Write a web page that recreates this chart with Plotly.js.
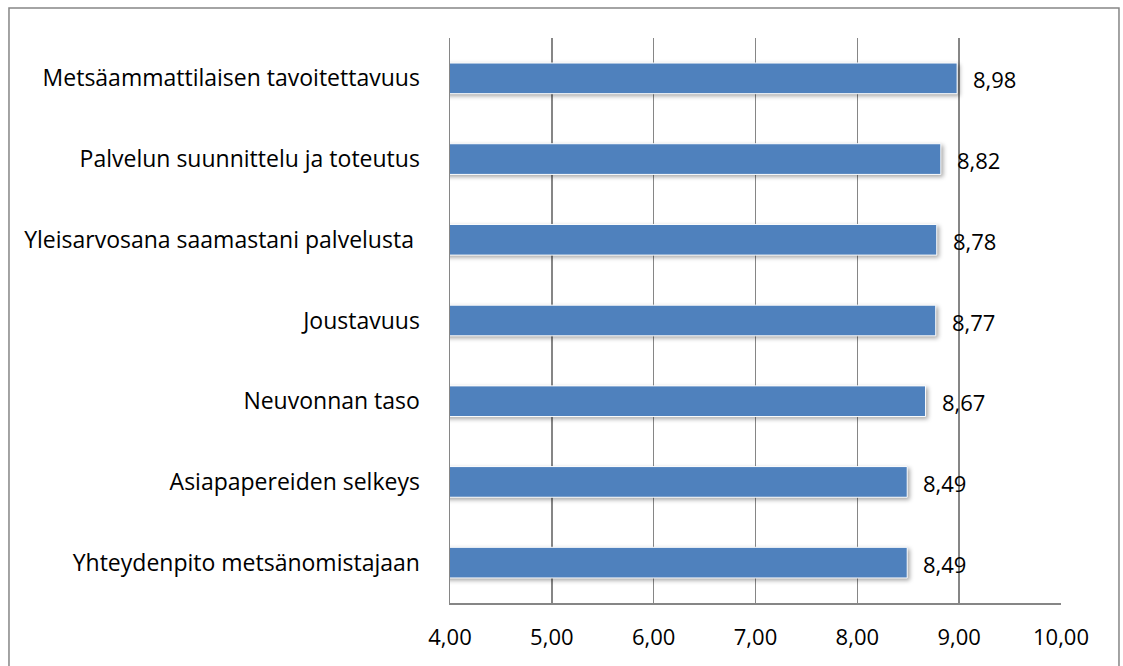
<!DOCTYPE html>
<html><head><meta charset="utf-8">
<script src="https://cdn.plot.ly/plotly-3.0.1.min.js"></script>
<style>body{margin:0;background:#fff}#chart{width:1123px;height:666px}</style>
</head><body><div id="chart"></div>
<script>
const categories = [
  "Metsäammattilaisen tavoitettavuus",
  "Palvelun suunnittelu ja toteutus",
  "Yleisarvosana saamastani palvelusta ",
  "Joustavuus",
  "Neuvonnan taso",
  "Asiapapereiden selkeys",
  "Yhteydenpito metsänomistajaan"
];
const values = [8.98, 8.82, 8.78, 8.77, 8.67, 8.49, 8.49];
const tickValues = [4, 5, 6, 7, 8, 9, 10];

const FONT = "'Open Sans', Lato, sans-serif";
const trace = {
  type: "bar", orientation: "h",
  x: values, y: categories,
  width: 0.38,
  marker: {color: "#4F81BD", line: {color: "#FFFFFF", width: 1}},
  hoverinfo: "none"
};
const labelAnn = values.map((v, i) => ({
  x: v, y: categories[i], xref: "x", yref: "y",
  text: v.toFixed(2).replace(".", ","),
  showarrow: false, xanchor: "left", xshift: 14, yshift: -1,
  font: {family: FONT, size: 22, color: "#000"}
}));
const layout = {
  width: 1123, height: 666,
  margin: {l: 450, r: 62, t: 38, b: 63},
  paper_bgcolor: "#fff", plot_bgcolor: "#fff",
  separators: ", ",
  showlegend: false,
  font: {family: FONT, size: 22, color: "#000"},
  xaxis: {
    range: [4, 10], tickvals: tickValues, tickformat: ".2f",
    showgrid: true, gridcolor: "#868686", gridwidth: 1.5,
    showline: true, linecolor: "#868686", linewidth: 1.5,
    zeroline: false, ticks: "", ticklabelstandoff: 14,
    tickfont: {family: FONT, size: 22, color: "#000"}, fixedrange: true
  },
  yaxis: {
    autorange: "reversed", showgrid: false, zeroline: false,
    showline: true, linecolor: "#868686", linewidth: 1.5,
    ticks: "", ticklabelstandoff: 24,
    tickfont: {family: FONT, size: 23, color: "#000"}, fixedrange: true
  },
  annotations: labelAnn,
  shapes: [{
    type: "rect", xref: "paper", yref: "paper",
    x0: -0.7218, x1: 1.0949, y0: -0.12, y1: 1.0531,
    line: {color: "#868686", width: 1.5}, layer: "below"
  }]
};
Plotly.newPlot("chart", [trace], layout, {staticPlot: true}).then(() => {
  document.querySelectorAll(".bars path").forEach(p => {
    p.style.filter = "drop-shadow(2px 2px 2px rgba(0,0,0,0.35))";
  });
});
</script></body></html>
